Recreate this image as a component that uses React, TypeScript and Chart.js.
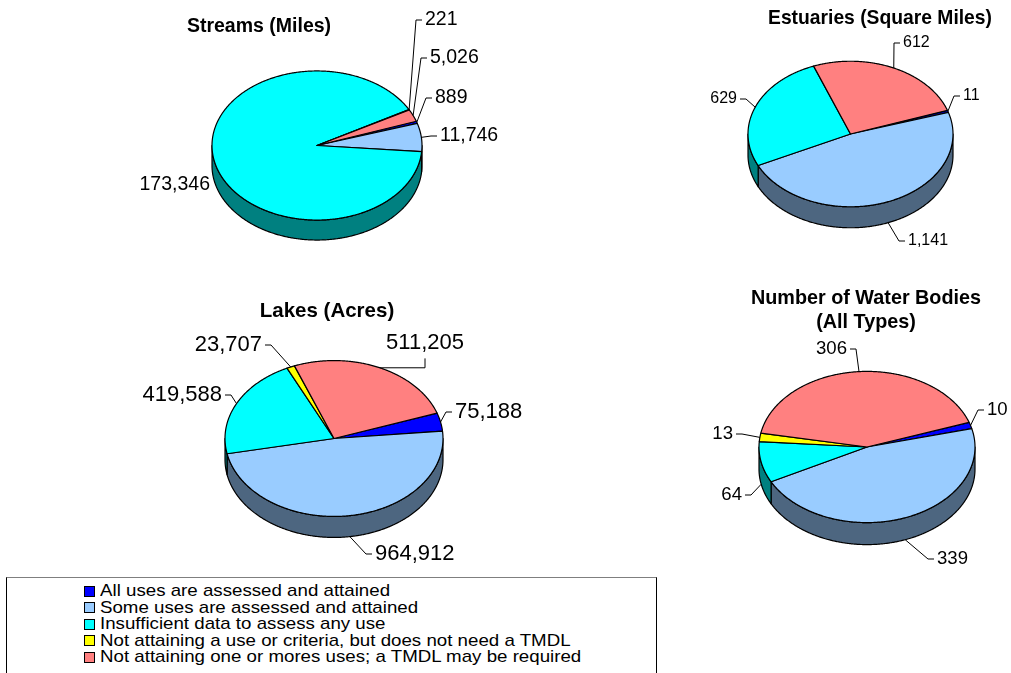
import React, { useEffect, useRef } from "react";
import { Chart, registerables } from "chart.js";

Chart.register(...registerables);

// ---- data ---------------------------------------------------------------
const CATEGORIES = [
  "All uses are assessed and attained",
  "Some uses are assessed and attained",
  "Insufficient data to assess any use",
  "Not attaining a use or criteria, but does not need a TMDL",
  "Not attaining one or mores uses; a TMDL may be required",
];

const STREAMS_MILES = [889, 11746, 173346, 221, 5026];
const ESTUARIES_SQ_MILES = [11, 1141, 629, 0, 612];
const LAKES_ACRES = [75188, 964912, 419588, 23707, 511205];
const WATER_BODIES = [10, 339, 64, 13, 306];

// ---- styling ------------------------------------------------------------
const TOP_COLORS = ["#0000FF", "#99CCFF", "#00FFFF", "#FFFF00", "#FF8080"];
const SIDE_COLORS = ["#000080", "#4D6680", "#008080", "#808000", "#804040"];
const FONT = '"Liberation Sans", Arial, Helvetica, sans-serif';
const PAGE_W = 1011;
const PAGE_H = 673;
const FIRST_SLICE_ROTATION = 71;

// Label placement: side says where the leader line meets the text.
// "L": text begins at x, "R": text ends at x, "B": text centred on x with
// the leader rising to its underside, "N": text ends at x, no leader.
type Side = "L" | "R" | "B" | "N";
type Spot = [Side, number, number] | null;

const STREAMS_SPOTS: Spot[] = [
  ["L", 435, 98],
  ["L", 440, 136],
  ["N", 210, 185],
  ["L", 425, 20],
  ["L", 430, 58],
];
const ESTUARIES_SPOTS: Spot[] = [
  ["L", 963, 96],
  ["L", 908, 241],
  ["R", 737, 99],
  null,
  ["L", 903, 43],
];
const LAKES_SPOTS: Spot[] = [
  ["L", 455, 412],
  ["L", 375, 554],
  ["R", 222, 395],
  ["R", 262, 345],
  ["B", 425, 343],
];
const WATER_SPOTS: Spot[] = [
  ["L", 987, 410],
  ["L", 937, 559],
  ["R", 742, 495],
  ["R", 733, 434],
  ["R", 847, 349],
];

interface PieSpec {
  title: string[];
  titleX: number;
  titleY: number;
  titleSize: number;
  values: number[];
  spots: Spot[];
  labelSize: number;
  cx: number;
  cy: number;
  r: number;
  tilt: number;
  depth: number;
}

const PIES: PieSpec[] = [
  {
    title: ["Streams (Miles)"],
    titleX: 259,
    titleY: 27,
    titleSize: 19.5,
    values: STREAMS_MILES,
    spots: STREAMS_SPOTS,
    labelSize: 19.5,
    cx: 317,
    cy: 145.5,
    r: 105,
    tilt: 0.71,
    depth: 20,
  },
  {
    title: ["Estuaries (Square Miles)"],
    titleX: 880,
    titleY: 18.5,
    titleSize: 19.3,
    values: ESTUARIES_SQ_MILES,
    spots: ESTUARIES_SPOTS,
    labelSize: 16,
    cx: 850.5,
    cy: 134,
    r: 102.5,
    tilt: 0.71,
    depth: 21,
  },
  {
    title: ["Lakes (Acres)"],
    titleX: 327,
    titleY: 311.5,
    titleSize: 20.5,
    values: LAKES_ACRES,
    spots: LAKES_SPOTS,
    labelSize: 22,
    cx: 334,
    cy: 438.5,
    r: 109,
    tilt: 0.715,
    depth: 21,
  },
  {
    title: ["Number of Water Bodies", "(All Types)"],
    titleX: 866,
    titleY: 298.5,
    titleSize: 19.8,
    values: WATER_BODIES,
    spots: WATER_SPOTS,
    labelSize: 18.6,
    cx: 867,
    cy: 447,
    r: 108,
    tilt: 0.7,
    depth: 22,
  },
];

const fmt = (v: number) => v.toLocaleString("en-US");

// Draws the pie as a tilted disc with a front wall, then values and title.
function makePie3DPlugin(spec: PieSpec) {
  const TAU = Math.PI * 2;
  const pt = (arc: any, a: number, dz = 0): [number, number] => [
    arc.x + arc.outerRadius * Math.cos(a),
    arc.y + spec.tilt * arc.outerRadius * Math.sin(a) + dz,
  ];
  const trace = (
    ctx: CanvasRenderingContext2D,
    arc: any,
    a1: number,
    a2: number,
    dz: number,
    moveFirst: boolean
  ) => {
    const n = Math.max(2, Math.ceil(Math.abs(a2 - a1) / (Math.PI / 360)));
    for (let i = 0; i <= n; i++) {
      const [x, y] = pt(arc, a1 + ((a2 - a1) * i) / n, dz);
      if (i === 0 && moveFirst) ctx.moveTo(x, y);
      else ctx.lineTo(x, y);
    }
  };

  return {
    id: "pie3d",
    beforeDatasetsDraw(chart: any) {
      const ctx = chart.ctx as CanvasRenderingContext2D;
      const arcs = chart.getDatasetMeta(0).data as any[];
      ctx.save();
      ctx.lineWidth = 1.2;
      ctx.strokeStyle = "#000";
      ctx.lineJoin = "round";

      // front walls (only the near half of the rim is visible)
      arcs.forEach((arc, i) => {
        if (arc.endAngle - arc.startAngle <= 1e-9) return;
        for (let n = -1; n <= 2; n++) {
          const lo = Math.max(arc.startAngle, TAU * n);
          const hi = Math.min(arc.endAngle, TAU * n + Math.PI);
          if (hi - lo <= 1e-6) continue;
          ctx.beginPath();
          trace(ctx, arc, lo, hi, 0, true);
          trace(ctx, arc, hi, lo, spec.depth, false);
          ctx.closePath();
          ctx.fillStyle = SIDE_COLORS[i];
          ctx.fill();
          ctx.stroke();
        }
      });

      // top faces
      arcs.forEach((arc) => {
        if (arc.endAngle - arc.startAngle <= 1e-9) return;
        ctx.beginPath();
        ctx.moveTo(arc.x, arc.y);
        trace(ctx, arc, arc.startAngle, arc.endAngle, 0, false);
        ctx.closePath();
        ctx.fillStyle = arc.options.backgroundColor;
        ctx.fill();
        ctx.stroke();
      });
      ctx.restore();
      return false;
    },
    afterDraw(chart: any) {
      const ctx = chart.ctx as CanvasRenderingContext2D;
      const arcs = chart.getDatasetMeta(0).data as any[];
      const values = chart.data.datasets[0].data as number[];
      ctx.save();
      ctx.fillStyle = "#000";
      ctx.strokeStyle = "#000";
      ctx.lineWidth = 1;
      ctx.textBaseline = "middle";

      // value labels with leader lines
      ctx.font = `${spec.labelSize}px ${FONT}`;
      arcs.forEach((arc, i) => {
        const spot = spec.spots[i];
        if (!spot || !values[i]) return;
        const [side, tx, ty] = spot;
        const mid = (arc.startAngle + arc.endAngle) / 2;
        let [px, py] = pt(arc, mid);
        if (Math.sin(mid) > 0) py += spec.depth;

        let elbow: [number, number] | null = null;
        let end: [number, number] | null = null;
        if (side === "L") {
          end = [tx - 3, ty];
          elbow = [tx - 9, ty];
          ctx.textAlign = "left";
        } else if (side === "R") {
          end = [tx + 3, ty];
          elbow = [tx + 9, ty];
          ctx.textAlign = "right";
        } else if (side === "B") {
          end = [tx, ty + spec.labelSize * 0.7];
          elbow = [tx, py];
          ctx.textAlign = "center";
        } else {
          ctx.textAlign = "right";
        }
        if (elbow && end) {
          ctx.beginPath();
          ctx.moveTo(px, py);
          ctx.lineTo(elbow[0], elbow[1]);
          ctx.lineTo(end[0], end[1]);
          ctx.stroke();
        }
        ctx.fillText(fmt(values[i]), tx, ty);
      });

      // title
      ctx.font = `bold ${spec.titleSize}px ${FONT}`;
      ctx.textAlign = "center";
      spec.title.forEach((line, k) => {
        ctx.fillText(line, spec.titleX, spec.titleY + k * 24);
      });
      ctx.restore();
    },
  };
}

function Pie3D({ spec }: { spec: PieSpec }) {
  const ref = useRef<HTMLCanvasElement>(null);
  useEffect(() => {
    const pad = 4;
    const chart = new Chart(ref.current as HTMLCanvasElement, {
      type: "pie",
      data: {
        labels: CATEGORIES,
        datasets: [
          {
            data: spec.values,
            backgroundColor: TOP_COLORS,
            borderWidth: 0,
          },
        ],
      },
      options: {
        responsive: false,
        animation: false,
        events: [],
        rotation: FIRST_SLICE_ROTATION,
        radius: spec.r,
        layout: {
          padding: {
            left: spec.cx - spec.r - pad,
            right: PAGE_W - spec.cx - spec.r - pad,
            top: spec.cy - spec.r - pad,
            bottom: PAGE_H - spec.cy - spec.r - pad,
          },
        },
        plugins: {
          legend: { display: false },
          tooltip: { enabled: false },
          title: { display: false },
        },
      } as any,
      plugins: [makePie3DPlugin(spec)],
    });
    return () => chart.destroy();
  }, [spec]);
  return (
    <canvas
      ref={ref}
      width={PAGE_W}
      height={PAGE_H}
      style={{ position: "absolute", left: 0, top: 0 }}
    />
  );
}

const LEGEND_ROW_Y = [591, 607.5, 624, 640.5, 657];

function Legend() {
  return (
    <div
      style={{
        position: "absolute",
        left: 6,
        top: 577,
        width: 651,
        height: 120,
        boxSizing: "border-box",
        border: "1px solid #000",
        borderTopColor: "#7f7f7f",
        background: "#fff",
      }}
    >
      {CATEGORIES.map((name, i) => (
        <React.Fragment key={name}>
          <div
            style={{
              position: "absolute",
              left: 77,
              top: LEGEND_ROW_Y[i] - 578 - 5.5,
              width: 11,
              height: 11,
              boxSizing: "border-box",
              border: "1px solid #000",
              background: TOP_COLORS[i],
            }}
          />
          <div
            style={{
              position: "absolute",
              left: 93,
              top: LEGEND_ROW_Y[i] - 578 - 10,
              height: 20,
              lineHeight: "20px",
              fontFamily: FONT,
              fontSize: 17,
              whiteSpace: "nowrap",
              color: "#000",
              transform: "scaleX(1.1)",
              transformOrigin: "left center",
            }}
          >
            {name}
          </div>
        </React.Fragment>
      ))}
    </div>
  );
}

export default function App() {
  return (
    <div
      style={{
        position: "fixed",
        left: 0,
        top: 0,
        width: PAGE_W,
        height: PAGE_H,
        background: "#fff",
        overflow: "hidden",
      }}
    >
      {PIES.map((spec) => (
        <Pie3D key={spec.title[0]} spec={spec} />
      ))}
      <Legend />
    </div>
  );
}
